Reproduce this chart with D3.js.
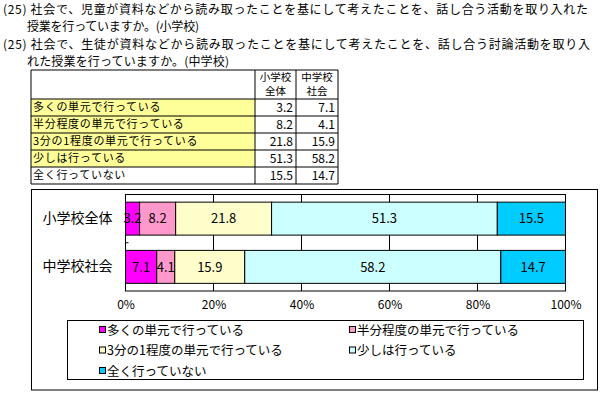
<!DOCTYPE html>
<html>
<head>
<meta charset="utf-8">
<script src="https://cdn.jsdelivr.net/npm/d3@7"></script>
<style>
  body { margin: 0; background: #fff; }
  svg { display: block; font-family: "Noto Sans CJK JP", "Noto Sans", sans-serif; }
</style>
</head>
<body>
<div id="chart"></div>
<script>
// data
var titleLines = [
  "(25) 社会で、児童が資料などから読み取ったことを基にして考えたことを、話し合う活動を取り入れた",
  "授業を行っていますか。(小学校)",
  "(25) 社会で、生徒が資料などから読み取ったことを基にして考えたことを、話し合う討論活動を取り入",
  "れた授業を行っていますか。(中学校)"
];
var categories = ["小学校全体", "中学校社会"];
var tableHeaders = [["小学校", "全体"], ["中学校", "社会"]];
var seriesNames = [
  "多くの単元で行っている",
  "半分程度の単元で行っている",
  "3分の1程度の単元で行っている",
  "少しは行っている",
  "全く行っていない"
];
var elementary = [3.2, 8.2, 21.8, 51.3, 15.5];
var juniorHigh = [7.1, 4.1, 15.9, 58.2, 14.7];
var xTicks = [0, 20, 40, 60, 80, 100];
var colors = ["#ff00ff", "#ff99cc", "#ffffcc", "#ccffff", "#00ccff"];

var W = 602, H = 397;
var svg = d3.select("#chart").append("svg")
  .attr("width", W).attr("height", H);

// Title lines
var titlePos = [[3, 14, 585], [27, 31, 172], [3, 49, 587], [27, 66, 202]];
titleLines.forEach(function(t, i) {
  svg.append("text")
    .attr("x", titlePos[i][0]).attr("y", titlePos[i][1])
    .attr("font-size", 12).attr("fill", "#000")
    .attr("textLength", titlePos[i][2]).attr("lengthAdjust", "spacing")
    .text(t);
});

// Table
var tbl = { left: 31, c1: 255, c2: 296, right: 338, top: 70, headH: 29, rowH: 17 };
var tg = svg.append("g");
var rowTop = function(i) { return tbl.top + tbl.headH + i * tbl.rowH; };
seriesNames.forEach(function(name, i) {
  if (i < 4) {
    tg.append("rect").attr("x", tbl.left).attr("y", rowTop(i))
      .attr("width", tbl.c1 - tbl.left).attr("height", tbl.rowH)
      .attr("fill", "#ffff99");
  }
  tg.append("text").attr("x", tbl.left + 2).attr("y", rowTop(i) + tbl.rowH / 2)
    .attr("dy", "0.36em").attr("font-size", 11).attr("letter-spacing", 0.7).text(name);
  tg.append("text").attr("x", tbl.c2 - 3).attr("y", rowTop(i) + tbl.rowH / 2)
    .attr("dy", "0.36em").attr("font-size", 12).attr("text-anchor", "end")
    .text(elementary[i].toFixed(1));
  tg.append("text").attr("x", tbl.right - 3).attr("y", rowTop(i) + tbl.rowH / 2)
    .attr("dy", "0.36em").attr("font-size", 12).attr("text-anchor", "end")
    .text(juniorHigh[i].toFixed(1));
});
tableHeaders.forEach(function(h, j) {
  var cx = j === 0 ? (tbl.c1 + tbl.c2) / 2 : (tbl.c2 + tbl.right) / 2;
  h.forEach(function(s, k) {
    tg.append("text").attr("x", cx).attr("y", tbl.top + 7.5 + k * 14)
      .attr("dy", "0.36em").attr("font-size", 10.5).attr("text-anchor", "middle").text(s);
  });
});
// table lines
var tBottom = rowTop(seriesNames.length);
var hLines = [tbl.top, tbl.top + tbl.headH].concat(seriesNames.map(function(d, i) { return rowTop(i + 1); }));
hLines.forEach(function(yy) {
  tg.append("line").attr("x1", tbl.left).attr("x2", tbl.right).attr("y1", yy).attr("y2", yy)
    .attr("stroke", "#000");
});
[tbl.left, tbl.c1, tbl.c2, tbl.right].forEach(function(xx) {
  tg.append("line").attr("x1", xx).attr("x2", xx).attr("y1", tbl.top).attr("y2", tBottom)
    .attr("stroke", "#000");
});

// Chart frame
svg.append("rect").attr("x", 31.5).attr("y", 189.5).attr("width", 566).attr("height", 200.5)
  .attr("fill", "#fff").attr("stroke", "#000");

var margin = { left: 125.5, top: 194.5 };
var width = 440, height = 96.5;
var g = svg.append("g").attr("transform", "translate(" + margin.left + "," + margin.top + ")");

var x = d3.scaleLinear().domain([0, 100]).range([0, width]);
var y = d3.scaleBand().domain(categories).range([0, height])
  .paddingInner(0.317).paddingOuter(0.1585);

// gridlines
g.selectAll(".grid").data(xTicks).enter().append("line")
  .attr("x1", d => x(d)).attr("x2", d => x(d))
  .attr("y1", 0).attr("y2", height)
  .attr("stroke", "#000");

// stacked bars
var rows = categories.map(function(c, i) {
  var vals = i === 0 ? elementary : juniorHigh;
  var o = { cat: c };
  seriesNames.forEach(function(s, k) { o[s] = vals[k]; });
  return o;
});
var stack = d3.stack().keys(seriesNames)(rows);
stack.forEach(function(layer, k) {
  layer.forEach(function(seg) {
    g.append("rect")
      .attr("x", x(seg[0])).attr("y", y(seg.data.cat))
      .attr("width", x(seg[1]) - x(seg[0])).attr("height", y.bandwidth())
      .attr("fill", colors[k]).attr("stroke", "#000");
  });
});
stack.forEach(function(layer, k) {
  layer.forEach(function(seg) {
    g.append("text")
      .attr("x", x((seg[0] + seg[1]) / 2)).attr("y", y(seg.data.cat) + y.bandwidth() / 2)
      .attr("dy", "0.36em").attr("text-anchor", "middle").attr("font-size", 13)
      .text(seg.data[seriesNames[k]].toFixed(1));
  });
});

// plot border
g.append("rect").attr("x", 0).attr("y", 0).attr("width", width).attr("height", height)
  .attr("fill", "none").attr("stroke", "#000");

// category tick between bands
var midTick = y(categories[0]) + y.bandwidth() + y.step() * y.paddingInner() / 2;
g.append("line").attr("x1", 0).attr("x2", 3).attr("y1", midTick).attr("y2", midTick)
  .attr("stroke", "#000");

// axes
var xAxis = d3.axisBottom(x).tickValues(xTicks).tickFormat(d => d + "%")
  .tickSize(0).tickPadding(9);
g.append("g").attr("transform", "translate(0," + height + ")").call(xAxis)
  .call(a => a.select(".domain").remove())
  .selectAll("text").attr("font-size", 12).attr("fill", "#000")
  .attr("font-family", "'Noto Sans CJK JP', sans-serif");

var yAxis = d3.axisLeft(y).tickSize(0).tickPadding(13);
g.append("g").call(yAxis)
  .call(a => a.select(".domain").remove())
  .selectAll("text").attr("font-size", 14).attr("fill", "#000")
  .attr("font-family", "'Noto Sans CJK JP', sans-serif");

// legend
var lg = svg.append("g");
lg.append("rect").attr("x", 67.5).attr("y", 320.5).attr("width", 516).attr("height", 59)
  .attr("fill", "#fff").attr("stroke", "#000");
var legX = [99, 349], legY = [330, 350.5, 371];
seriesNames.forEach(function(s, i) {
  var lx = legX[i % 2], ly = legY[Math.floor(i / 2)];
  lg.append("rect").attr("x", lx + 0.5).attr("y", ly - 3.5).attr("width", 6).attr("height", 6)
    .attr("fill", colors[i]).attr("stroke", "#000");
  lg.append("text").attr("x", lx + 8).attr("y", ly).attr("dy", "0.36em")
    .attr("font-size", 12.5).text(s);
});
</script>
</body>
</html>
